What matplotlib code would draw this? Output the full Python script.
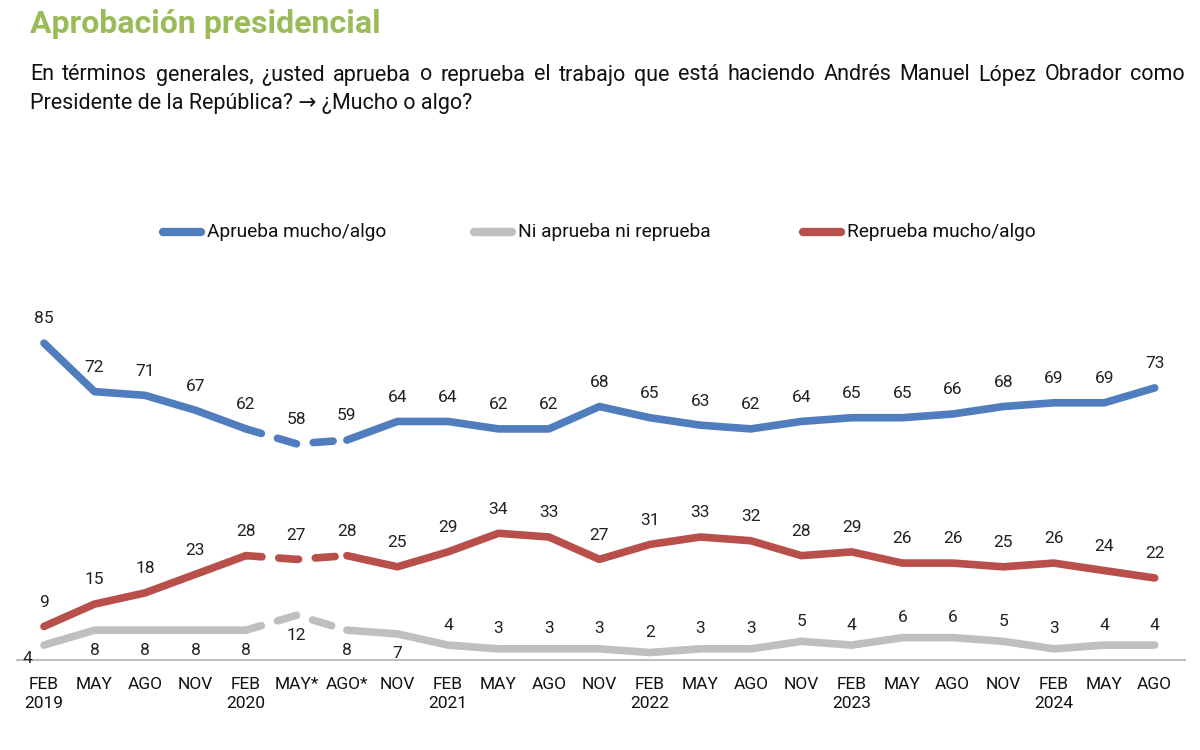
import matplotlib
matplotlib.use("Agg")
import matplotlib.pyplot as plt
import numpy as np
from matplotlib import font_manager

names = {f.name for f in font_manager.fontManager.ttflist}
base = 'Liberation Sans Narrow' if 'Liberation Sans Narrow' in names else 'Roboto'
plt.rcParams['font.family'] = [base, 'DejaVu Sans']

months = ["FEB\n2019", "MAY", "AGO", "NOV", "FEB\n2020", "MAY*", "AGO*", "NOV",
          "FEB\n2021", "MAY", "AGO", "NOV", "FEB\n2022", "MAY", "AGO", "NOV",
          "FEB\n2023", "MAY", "AGO", "NOV", "FEB\n2024", "MAY", "AGO"]
aprueba = [85, 72, 71, 67, 62, 58, 59, 64, 64, 62, 62, 68, 65, 63, 62, 64, 65, 65, 66, 68, 69, 69, 73]
reprueba = [9, 15, 18, 23, 28, 27, 28, 25, 29, 34, 33, 27, 31, 33, 32, 28, 29, 26, 26, 25, 26, 24, 22]
ni = [4, 8, 8, 8, 8, 12, 8, 7, 4, 3, 3, 3, 2, 3, 3, 5, 4, 6, 6, 5, 3, 4, 4]

C_BLUE = '#4F7DBD'
C_GRAY = '#BFBFBF'
C_RED = '#B84F4B'
C_GREEN = '#9BBB59'

fig = plt.figure(figsize=(12, 7.5), dpi=100)
ax = fig.add_axes([17/1200, 0.12, (1185-17)/1200, 0.497])
x = np.arange(len(months))
ax.set_xlim(-0.535, 22.6)
ax.set_ylim(0, 100)

for vals, color in [(ni, C_GRAY), (reprueba, C_RED), (aprueba, C_BLUE)]:
    v = np.array(vals, dtype=float)
    ax.plot(x[:5], v[:5], color=color, lw=5.5, solid_capstyle='round', solid_joinstyle='round')
    ax.plot(x[6:], v[6:], color=color, lw=5.5, solid_capstyle='round', solid_joinstyle='round')
    ax.plot(x[4:7], v[4:7], color=color, lw=5.5, linestyle=(0.5, (2.6, 2.2)),
            dash_capstyle='round')

lab_fs = 12.5
for i, val in enumerate(aprueba):
    ax.annotate(str(val), (x[i], val), xytext=(0, 12), textcoords='offset points',
                ha='center', va='bottom', fontsize=lab_fs, color='#222222')
for i, val in enumerate(reprueba):
    ax.annotate(str(val), (x[i], val), xytext=(0, 12), textcoords='offset points',
                ha='center', va='bottom', fontsize=lab_fs, color='#222222')
for i, val in enumerate(ni):
    if i == 0:
        ax.annotate(str(val), (x[i], val), xytext=(-12, -4), textcoords='offset points',
                    ha='center', va='top', fontsize=lab_fs, color='#222222')
    elif i <= 7:
        ax.annotate(str(val), (x[i], val), xytext=(0, -9), textcoords='offset points',
                    ha='center', va='top', fontsize=lab_fs, color='#222222')
    else:
        ax.annotate(str(val), (x[i], val), xytext=(0, 9), textcoords='offset points',
                    ha='center', va='bottom', fontsize=lab_fs, color='#222222')

for s in ['top', 'right', 'left']:
    ax.spines[s].set_visible(False)
ax.spines['bottom'].set_color('#BFBFBF')
ax.spines['bottom'].set_linewidth(1.5)
ax.set_yticks([])
ax.set_xticks(x)
ax.set_xticklabels(months, fontsize=12.5, color='#111111', linespacing=1.35)
ax.tick_params(axis='x', length=0, pad=12)

# legend
leg_items = [("Aprueba mucho/algo", C_BLUE, 163), ("Ni aprueba ni reprueba", C_GRAY, 474),
             ("Reprueba mucho/algo", C_RED, 803)]
for label, color, px in leg_items:
    fig.add_artist(plt.Line2D([px/1200, (px+38)/1200], [1-232/750]*2, color=color, lw=6,
                              solid_capstyle='round', transform=fig.transFigure))
    fig.text((px+44)/1200, 1-232/750, label, fontsize=13.8, va='center', ha='left', color='#111111')

fig.text(30/1200, 1-24/750, "Aprobación presidencial", fontsize=23, fontweight='bold',
         color=C_GREEN, va='center', ha='left')

# justified first subtitle line
line1 = "En términos generales, ¿usted aprueba o reprueba el trabajo que está haciendo Andrés Manuel López Obrador como"
words = line1.split(" ")
sub_fs = 15.5
renderer = fig.canvas.get_renderer()
widths = []
texts = []
for w in words:
    t = fig.text(0, 1-75/750, w, fontsize=sub_fs, va='center', ha='left', color='#111111')
    widths.append(t.get_window_extent(renderer).width)
    texts.append(t)
x0, x1 = 30, 1185
gap = (x1 - x0 - sum(widths)) / (len(words) - 1)
cur = x0
for t, wd in zip(texts, widths):
    t.set_x(cur/1200)
    cur += wd + gap
fig.text(30/1200, 1-104/750, "Presidente de la República? \u2192 ¿Mucho o algo?",
         fontsize=sub_fs, va='center', ha='left', color='#111111')

fig.savefig("out.png", dpi=100)
